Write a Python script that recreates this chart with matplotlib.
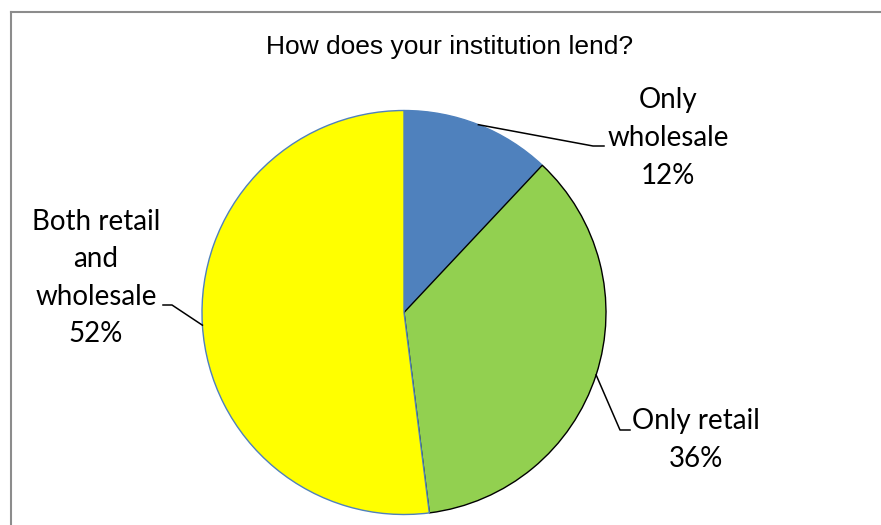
import matplotlib.pyplot as plt
from matplotlib.lines import Line2D
import numpy as np

# data
labels = ['Only\nwholesale', 'Only retail', 'Both retail\nand\nwholesale']
shares = [12, 36, 52]
colors = ['#4F81BD', '#92D050', '#FFFF00']
edges = ['#4F81BD', '#000000', '#4F81BD']
title = 'How does your institution lend?'

W, H = 881, 525
fig = plt.figure(figsize=(W / 100, H / 100), dpi=100)

# pie centre / radius in pixels
cx, cy, r = 404, 312.5, 202
ax = fig.add_axes([(cx - r) / W, (H - cy - r) / H, 2 * r / W, 2 * r / H])
wedges, _ = ax.pie(shares, colors=colors, startangle=90, counterclock=False,
                   wedgeprops=dict(linewidth=1.0))
for w, ec in zip(wedges, edges):
    w.set_edgecolor(ec)
ax.set_xlim(-1, 1)
ax.set_ylim(-1, 1)
ax.set_aspect('equal')
ax.axis('off')


def px(x, y):
    # pixel coords -> pie data coords
    return (x - cx) / r, (cy - y) / r


# label text position, elbow points (pixels)
label_pos = [
    ((668, 138), [(593, 146), (604, 146)]),
    ((696, 440), [(620, 430), (630, 430)]),
    ((96, 278), [(172, 305), (163, 305)]),
]
pct = ['12%', '36%', '52%']

for w, lab, p, (tpos, elbow) in zip(wedges, labels, pct, label_pos):
    mid = np.deg2rad((w.theta1 + w.theta2) / 2)
    xs = [np.cos(mid)] + [px(*e)[0] for e in elbow]
    ys = [np.sin(mid)] + [px(*e)[1] for e in elbow]
    ax.plot(xs, ys, color='black', lw=1.1, clip_on=False)
    tx, ty = px(*tpos)
    ax.text(tx, ty, lab + '\n' + p, ha='center', va='center', fontsize=20,
            family='Lato', linespacing=1.55, clip_on=False)

fig.text(450 / W, 1 - 47 / H, title, ha='center', va='center', fontsize=19,
         family='Liberation Sans')

# chart area border (only top and left visible)
fig.add_artist(Line2D([10.5 / W, 1], [1 - 11.5 / H, 1 - 11.5 / H], color='#8c8c8c', lw=1.5))
fig.add_artist(Line2D([10.5 / W, 10.5 / W], [0, 1 - 11.5 / H], color='#8c8c8c', lw=1.5))

fig.savefig('out.png', dpi=100)
